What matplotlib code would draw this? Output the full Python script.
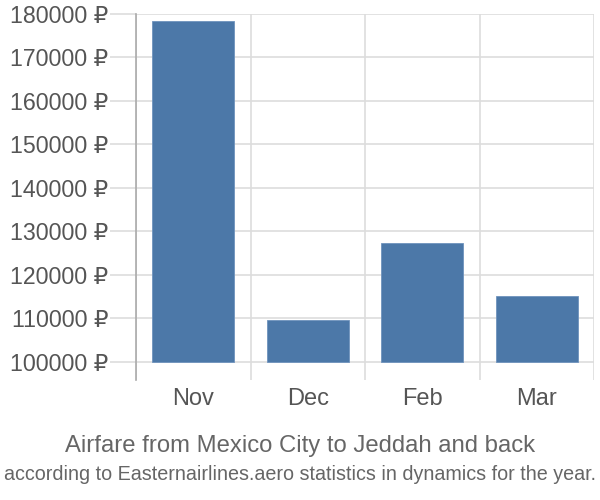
import matplotlib
matplotlib.use("Agg")
import matplotlib.pyplot as plt
import numpy as np

plt.rcParams['font.family'] = ['Liberation Sans', 'DejaVu Sans']

months = ['Nov', 'Dec', 'Feb', 'Mar']
prices = [178450, 109700, 127300, 115000]
yticks = [100000, 110000, 120000, 130000, 140000, 150000, 160000, 170000, 180000]
base = 100000

fig = plt.figure(figsize=(6, 5), dpi=100)
ax = fig.add_axes([136/600, 1 - 380/500, 458/600, 366/500])

x = np.arange(len(months))
ax.bar(x, np.array(prices) - base, bottom=base, width=0.72,
       color='#4c78a8', edgecolor='#6f93bd', linewidth=0.6, zorder=3)

ax.set_xlim(-0.5, len(months) - 0.5)
ax.set_ylim(95780, 180000)

ax.set_yticks(yticks)
ax.set_yticklabels([f"{v} ₽" for v in yticks])
ax.set_xticks(x)
ax.set_xticklabels(months)

# vertical lines between categories
ax.set_xticks(np.arange(len(months) + 1) - 0.5, minor=True)
ax.grid(True, which='minor', axis='x', color='#dddddd', linewidth=1.2, zorder=0)
ax.grid(True, which='major', axis='y', color='#dddddd', linewidth=1.2, zorder=0)

ax.tick_params(axis='y', length=19, color='#dddddd', width=1.2,
               labelsize=16.7, labelcolor='#555555', pad=1)
ax.tick_params(axis='x', which='major', length=0, labelsize=17,
               labelcolor='#555555', pad=6)
ax.tick_params(axis='x', which='minor', length=0)

for s in ['top', 'right', 'bottom']:
    ax.spines[s].set_visible(False)
ax.spines['left'].set_color('#aaaaaa')
ax.spines['left'].set_linewidth(1.2)

fig.text(0.5, 1 - 446/500, "Airfare from Mexico City to Jeddah and back",
         ha='center', va='center', fontsize=17.2, color='#666666')
fig.text(0.5, 1 - 475/500, "according to Easternairlines.aero statistics in dynamics for the year.",
         ha='center', va='center', fontsize=14.2, color='#666666')

fig.savefig("out.png", dpi=100)
